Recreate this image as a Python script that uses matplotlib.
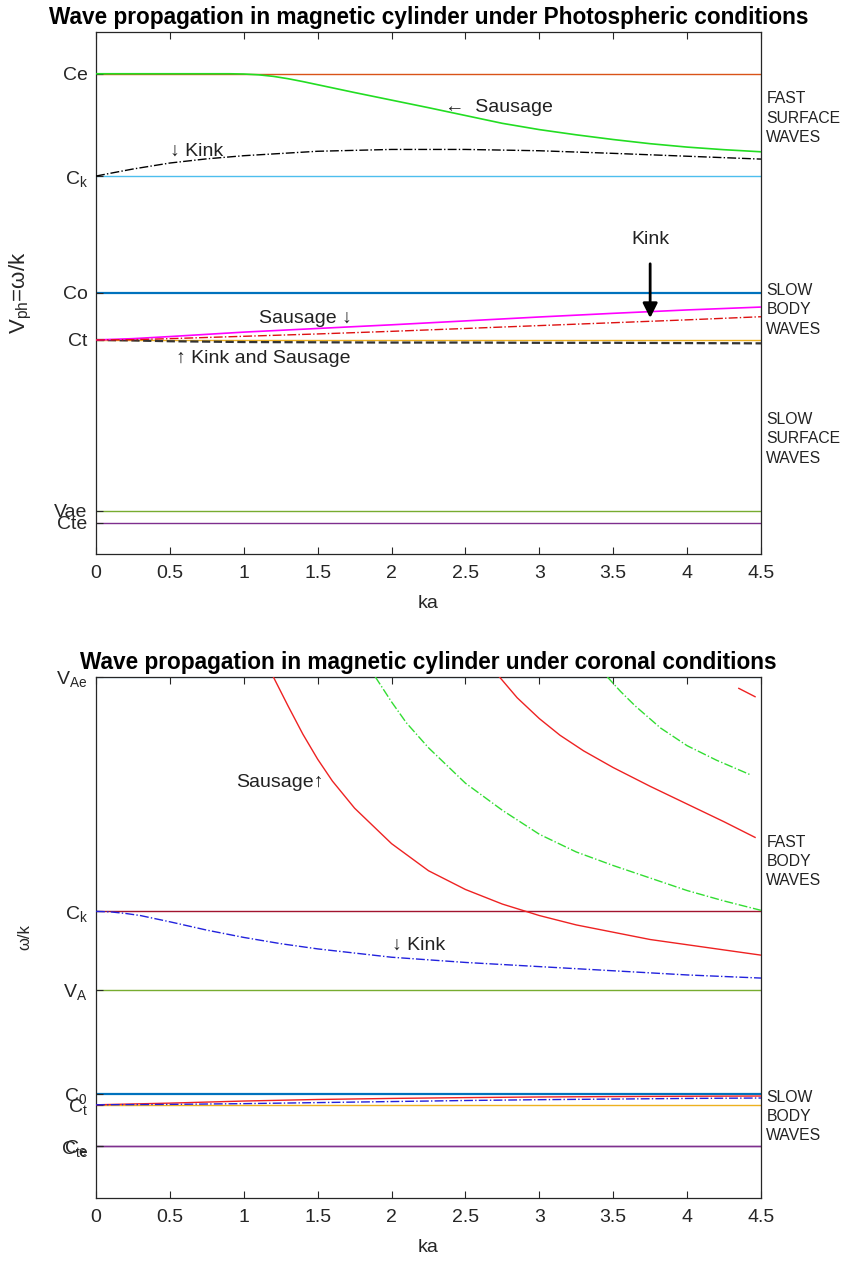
import numpy as np
import matplotlib
matplotlib.use('Agg')
import matplotlib.pyplot as plt
import matplotlib.transforms as mtransforms

plt.rcParams['font.family'] = ['Liberation Sans', 'DejaVu Sans']
plt.rcParams['mathtext.fontset'] = 'custom'
plt.rcParams['mathtext.rm'] = 'Liberation Sans'
plt.rcParams['mathtext.it'] = 'Liberation Sans'

# MATLAB default colour order
c_blue, c_orange, c_yellow = '#0072BD', '#D95319', '#EDB120'
c_purple, c_green, c_cyan, c_dred = '#7E2F8E', '#77AC30', '#4DBEEE', '#A2142F'
axis_col = '#262626'

# ---------------- photospheric data ----------------
photo_speeds = [1.840, 1.448, 1.000, 0.820, 0.165, 0.119]
photo_labels = ['Ce', r'$\mathregular{C_k}$', 'Co', 'Ct', 'Vae', 'Cte']
photo_colors = [c_orange, c_cyan, c_blue, c_yellow, c_green, c_purple]

ka_fs = [0, 0.5, 0.9, 1.0, 1.1, 1.2, 1.3, 1.4, 1.5, 1.75, 2.0, 2.25, 2.5, 2.75, 3.0, 3.25,
         3.5, 3.75, 4.0, 4.25, 4.5]
fast_saus = [1.840, 1.840, 1.840, 1.839, 1.836, 1.830, 1.821, 1.810, 1.798, 1.768, 1.739,
             1.710, 1.680, 1.650, 1.626, 1.606, 1.588, 1.572, 1.559, 1.549, 1.541]

ka_fk = [0, 0.1, 0.25, 0.5, 0.75, 1.0, 1.5, 2.0, 2.5, 3.0, 3.5, 4.0, 4.5]
fast_kink = [1.448, 1.459, 1.475, 1.498, 1.514, 1.526, 1.543, 1.550, 1.550, 1.545, 1.535,
             1.524, 1.513]

ka_sb = [0, 0.25, 0.5, 1.0, 1.5, 2.0, 2.5, 3.0, 3.5, 4.0, 4.5]
slow_body_saus = [0.820, 0.825, 0.833, 0.850, 0.864, 0.878, 0.893, 0.908, 0.922, 0.935, 0.946]
slow_body_kink = [0.820, 0.821, 0.825, 0.834, 0.843, 0.853, 0.864, 0.875, 0.886, 0.897, 0.909]
slow_surf = [0.820, 0.818, 0.815, 0.812, 0.811, 0.810, 0.810, 0.809, 0.809, 0.808, 0.807]

# ---------------- coronal data ----------------
cor_speeds = [5.0, 2.75, 2.0, 1.0, 0.894, 0.500, 0.4975]
cor_labels = [r'$\mathregular{V_{Ae}}$', r'$\mathregular{C_k}$', r'$\mathregular{V_A}$',
              r'$\mathregular{C_0}$', r'$\mathregular{C_t}$', r'$\mathregular{C_e}$',
              r'$\mathregular{C_{te}}$']
cor_colors = [c_cyan, c_dred, c_green, c_blue, c_yellow, c_purple, c_purple]

ka_r1 = [1.20, 1.30, 1.40, 1.50, 1.60, 1.75, 2.0, 2.25, 2.5, 2.75, 3.0, 3.25, 3.5, 3.75,
         4.0, 4.25, 4.5]
saus_1 = [5.00, 4.72, 4.45, 4.21, 4.00, 3.74, 3.40, 3.14, 2.96, 2.82, 2.71, 2.62, 2.55,
          2.48, 2.43, 2.38, 2.33]
ka_g1 = [1.89, 2.0, 2.1, 2.25, 2.5, 2.75, 3.0, 3.25, 3.5, 3.75, 4.0, 4.25, 4.5]
kink_1 = [5.00, 4.76, 4.56, 4.32, 3.98, 3.72, 3.49, 3.32, 3.19, 3.07, 2.95, 2.85, 2.76]
ka_r2 = [2.73, 2.85, 3.0, 3.14, 3.3, 3.5, 3.75, 4.0, 4.25, 4.46]
saus_2 = [5.00, 4.80, 4.60, 4.44, 4.29, 4.13, 3.95, 3.78, 3.61, 3.46]
ka_g2 = [3.46, 3.55, 3.65, 3.82, 4.0, 4.2, 4.43]
kink_2 = [5.00, 4.86, 4.72, 4.51, 4.34, 4.20, 4.06]
ka_r3 = [4.35, 4.46]
saus_3 = [4.89, 4.81]

ka_ck = [0, 0.1, 0.2, 0.3, 0.5, 0.75, 1.0, 1.25, 1.5, 1.75, 2.0, 2.5, 3.0, 3.5, 4.0, 4.5]
cor_kink = [2.75, 2.745, 2.73, 2.71, 2.65, 2.57, 2.50, 2.44, 2.39, 2.35, 2.31, 2.26, 2.22,
            2.18, 2.14, 2.11]

ka_cs = [0, 0.5, 1.0, 1.5, 2.0, 2.5, 3.0, 3.5, 4.0, 4.5]
cor_slow_saus = [0.894, 0.910, 0.930, 0.945, 0.955, 0.963, 0.969, 0.973, 0.976, 0.978]
cor_slow_kink = [0.894, 0.898, 0.905, 0.915, 0.925, 0.935, 0.943, 0.949, 0.955, 0.959]

xticks = [0, 0.5, 1, 1.5, 2, 2.5, 3, 3.5, 4, 4.5]

fig = plt.figure(figsize=(8.46, 12.65), dpi=100)
ax1 = fig.add_axes([0.1135, 0.5621, 0.786, 0.4126])
ax2 = fig.add_axes([0.1135, 0.0530, 0.786, 0.4119])


def style_axes(ax, ymax):
    ax.set_xlim(0, 4.5)
    ax.set_ylim(0, ymax)
    ax.set_xticks(xticks)
    ax.set_xticklabels(['0', '0.5', '1', '1.5', '2', '2.5', '3', '3.5', '4', '4.5'])
    ax.tick_params(axis='x', direction='in', top=True, length=5, width=0.8,
                   labelsize=14, colors=axis_col, pad=8)
    ax.tick_params(axis='y', direction='in', length=5, width=0.8, labelsize=14,
                   colors=axis_col, pad=6)
    for s in ax.spines.values():
        s.set_color(axis_col)
        s.set_linewidth(0.9)
    ax.set_xlabel('ka', fontsize=14, color=axis_col, labelpad=9)


# ================= top: photospheric =================
for v, c in zip(photo_speeds, photo_colors):
    ax1.axhline(v, color=c, lw=1.6 if c == c_blue else 1.0, zorder=1)
ax1.plot(ka_fs, fast_saus, '-', color='#22DD22', lw=1.2, zorder=3)
ax1.plot(ka_fk, fast_kink, '-.', color='black', lw=1.0, zorder=3)
ax1.plot(ka_sb, slow_body_saus, '-', color='#FF00FF', lw=1.2, zorder=3)
ax1.plot(ka_sb, slow_body_kink, '-.', color='#DD1111', lw=1.0, zorder=3)
ax1.plot(ka_sb, slow_surf, '--', color='#333333', lw=1.6, zorder=2)

style_axes(ax1, 2.0)
ax1.set_yticks(photo_speeds)
ax1.set_yticklabels(photo_labels)
ax1.set_title('Wave propagation in magnetic cylinder under Photospheric conditions',
              fontsize=16.3, fontweight='bold', pad=6)
ax1.set_ylabel(r'$\mathregular{V_{ph}}$=ω/k', fontsize=16, color=axis_col)
ax1.yaxis.set_label_coords(-0.093, 0.5)

ax1.text(2.36, 1.709, '←  Sausage', fontsize=14, va='center', ha='left', color='#222222')
ax1.text(0.50, 1.544, '↓ Kink', fontsize=14, va='center', ha='left', color='#222222')
ax1.text(1.10, 0.904, 'Sausage ↓', fontsize=14, va='center', ha='left', color='#222222')
ax1.text(0.54, 0.747, '↑ Kink and Sausage', fontsize=14, va='center', ha='left', color='#222222')
ax1.annotate('Kink', xy=(3.75, 0.904), xytext=(3.75, 1.203), fontsize=14, ha='center',
             va='center', color='#222222',
             arrowprops=dict(arrowstyle='-|>', color='black', lw=2, mutation_scale=22,
                             shrinkA=9, shrinkB=0))

tr1 = mtransforms.blended_transform_factory(ax1.transAxes, ax1.transData)
for y, txt in [(1.670, 'FAST\nSURFACE\nWAVES'), (0.935, 'SLOW\nBODY\nWAVES'),
               (0.441, 'SLOW\nSURFACE\nWAVES')]:
    ax1.text(1.008, y, txt, transform=tr1, fontsize=11.3, va='center', ha='left',
             linespacing=1.35, color='#222222')

# ================= bottom: coronal =================
for v, c in zip(cor_speeds, cor_colors):
    ax2.axhline(v, color=c, lw=1.6 if c in (c_blue, c_cyan) else 1.0, zorder=1)
ax2.plot(ka_r1, saus_1, '-', color='#EE2222', lw=1.0, zorder=3)
ax2.plot(ka_g1, kink_1, '-.', color='#33DD33', lw=1.0, zorder=3)
ax2.plot(ka_r2, saus_2, '-', color='#EE2222', lw=1.0, zorder=3)
ax2.plot(ka_g2, kink_2, '-.', color='#33DD33', lw=1.0, zorder=3)
ax2.plot(ka_r3, saus_3, '-', color='#EE2222', lw=1.0, zorder=3)
ax2.plot(ka_ck, cor_kink, '-.', color='#2222DD', lw=1.0, zorder=3)
ax2.plot(ka_cs, cor_slow_saus, '-', color='#EE2222', lw=1.0, zorder=3)
ax2.plot(ka_cs, cor_slow_kink, '-.', color='#2222DD', lw=1.0, zorder=3)

style_axes(ax2, 5.0)
ax2.set_yticks(cor_speeds)
ax2.set_yticklabels(cor_labels)
ax2.set_title('Wave propagation in magnetic cylinder under coronal conditions',
              fontsize=16.3, fontweight='bold', pad=6)
ax2.set_ylabel('ω/k', fontsize=12, color=axis_col)
ax2.yaxis.set_label_coords(-0.095, 0.5)

ax2.text(0.95, 3.99, 'Sausage↑', fontsize=14, va='center', ha='left', color='#222222')
ax2.text(2.00, 2.42, '↓ Kink', fontsize=14, va='center', ha='left', color='#222222')

tr2 = mtransforms.blended_transform_factory(ax2.transAxes, ax2.transData)
for y, txt in [(3.23, 'FAST\nBODY\nWAVES'), (0.78, 'SLOW\nBODY\nWAVES')]:
    ax2.text(1.008, y, txt, transform=tr2, fontsize=11.3, va='center', ha='left',
             linespacing=1.35, color='#222222')

fig.savefig('out.png', dpi=100)
